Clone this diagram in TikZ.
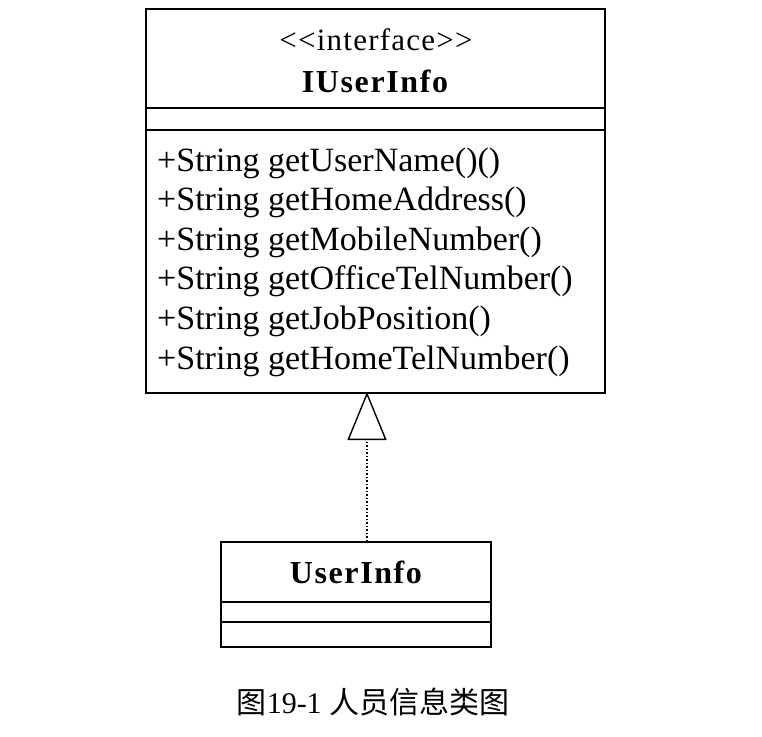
\documentclass[tikz,border=0pt]{standalone}
\usepackage{fontspec}
\setmainfont{Liberation Serif}
\newfontfamily\cjk{Noto Sans CJK SC}
\usetikzlibrary{positioning, arrows.meta}
\tikzset{classbox/.style={draw, line width=1.6pt, inner sep=0pt, anchor=north west},
         classname/.style={anchor=base, inner sep=0pt, font=\fontsize{32}{34}\selectfont\bfseries\addfontfeatures{LetterSpace=5}},
         method/.style={anchor=base west, inner sep=0pt, font=\fontsize{34}{38}\selectfont},
         divider/.style={line width=1.6pt}
        }

\begin{document}
\begin{tikzpicture}[x=1pt, y=-1pt]
\useasboundingbox (0,0) rectangle (762,736);

%interface box
\node[classbox, minimum width=459pt, minimum height=384pt](iuserinfo) at (145,8){};
\node[anchor=base, inner sep=0pt, font=\fontsize{31}{32}\selectfont\addfontfeatures{LetterSpace=4}](stereo) at (376,50){<{}<interface>{}>};
\node[classname](ititle) at (375,92){IUserInfo};
\coordinate (d1) at (0,108);
\coordinate (d2) at (0,130);
\draw[divider] (iuserinfo.west |- d1) -- (iuserinfo.east |- d1);
\draw[divider] (iuserinfo.west |- d2) -- (iuserinfo.east |- d2);

%methods
\node[method](m1) at (157,171){+String getUserName()()};
\node[method](m2) at (157,210.6){+String getHomeAddress()};
\node[method](m3) at (157,250.2){+String getMobileNumber()};
\node[method](m4) at (157,289.8){+String getOfficeTelNumber()};
\node[method](m5) at (157,329.4){+String getJobPosition()};
\node[method](m6) at (157,369){+String getHomeTelNumber()};

%implementing class
\node[classbox, minimum width=270pt, minimum height=105pt](userinfo) at (220,541){};
\node[classname](utitle) at (356,583){UserInfo};
\coordinate (d3) at (0,602);
\coordinate (d4) at (0,622);
\draw[divider] (userinfo.west |- d3) -- (userinfo.east |- d3);
\draw[divider] (userinfo.west |- d4) -- (userinfo.east |- d4);

%realization
\coordinate (apex) at (367,392);
\draw[line width=1.2pt, dash pattern=on 1.5pt off 2pt, -{Triangle[open, length=48pt, width=39pt, line width=1.4pt]}] (apex |- userinfo.north) -- (apex);

%caption
\node[anchor=base, inner sep=0pt, font=\fontsize{30}{32}\selectfont](caption) at (373,713){{\cjk 图}19-1 {\cjk 人员信息类图}};

\end{tikzpicture}
\end{document}
